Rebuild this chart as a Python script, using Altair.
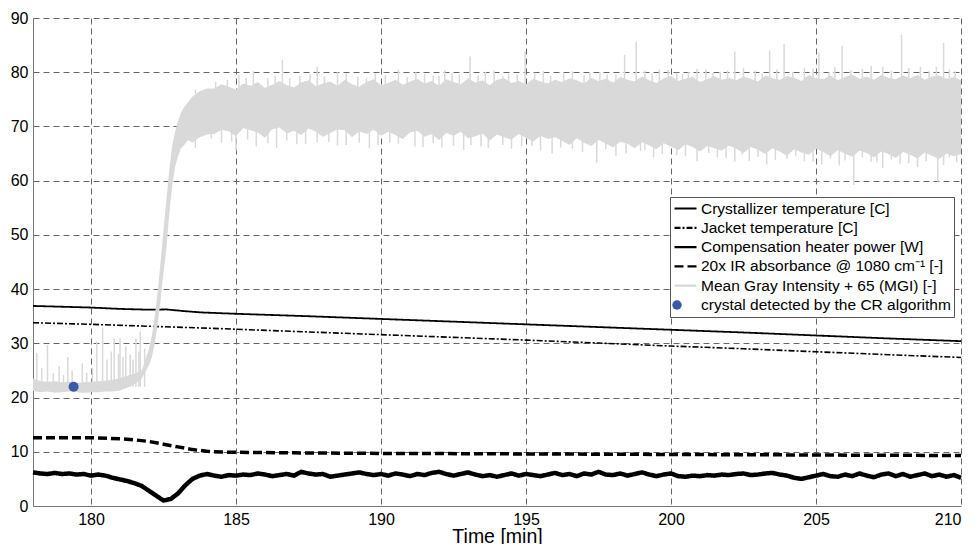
import altair as alt
import pandas as pd

FONT = "Liberation Sans"

SERIES = [
    "Crystallizer temperature [C]",
    "Jacket temperature [C]",
    "Compensation heater power [W]",
    "20x IR absorbance @ 1080 cm\u207b\u00b9 [-]",
    "Mean Gray Intensity + 65 (MGI) [-]",
    "crystal detected by the CR algorithm",
]
COLORS = ["#000000", "#000000", "#000000", "#000000", "#d9d9d9", "transparent"]
DASHES = [[1, 0], [6, 2, 2, 2], [1, 0], [9, 4], [1, 0], [1, 0]]
WIDTHS = [1.8, 1.6, 4.5, 3.5]
DOT_COLOR = "#3b5aa8"
BAND_COLOR = "#d9d9d9"

# Crystallizer temperature
cryst_t = [178, 179, 180, 181, 182, 182.6, 183.2, 183.8, 184.5, 185, 187.5, 190, 192.5,
           195, 197.5, 200, 202.5, 205, 207.5, 210]
cryst_v = [36.9, 36.75, 36.6, 36.35, 36.2, 36.25, 35.95, 35.7, 35.55, 35.45, 35.0, 34.5, 34.0,
           33.5, 33.0, 32.5, 32.0, 31.45, 30.9, 30.4]

# Jacket temperature
jacket_t = [178, 180, 182, 184, 185, 187.5, 190, 192.5, 195, 197.5, 200, 202.5, 205, 207.5, 210]
jacket_v = [33.8, 33.5, 33.15, 32.8, 32.6, 32.1, 31.6, 31.1, 30.6, 30.05, 29.5, 29.0, 28.45, 27.9, 27.4]

# IR absorbance x20
ir_t = [178, 180, 181, 181.5, 182, 182.5, 183, 183.5, 184, 184.5, 185, 187, 190, 193, 195,
        198, 200, 203, 205, 208, 210]
ir_v = [12.6, 12.6, 12.4, 12.2, 11.9, 11.4, 10.9, 10.4, 10.1, 9.95, 9.9, 9.8, 9.7, 9.65, 9.6,
        9.55, 9.5, 9.45, 9.4, 9.35, 9.3]

# Compensation heater power (every 0.25 min)
heater_t = [178 + 0.25 * i for i in range(129)]
heater_v = [6.2, 6.0, 5.9, 6.1, 5.9, 6.0, 5.8, 5.9, 5.6, 5.8, 5.6, 5.2, 4.9, 4.6, 4.2, 3.7,
            2.8, 1.9, 1.0, 1.3, 2.3, 3.8, 5.0, 5.6, 5.9, 5.6, 5.4, 5.7, 5.6, 5.8, 5.7, 6.0,
            5.8, 5.5, 5.7, 5.9, 5.6, 6.3, 6.0, 5.8, 5.9, 5.4, 5.6, 5.8, 6.0, 6.2, 5.9, 5.7,
            5.9, 5.6, 6.0, 5.8, 5.5, 5.9, 5.7, 6.1, 6.3, 5.9, 5.6, 5.9, 6.2, 5.8, 5.5, 5.7,
            5.4, 5.7, 6.0, 5.6, 5.9, 5.7, 5.5, 5.8, 6.1, 5.7, 5.9, 5.5, 6.0, 5.8, 6.3, 5.8,
            5.7, 6.0, 5.6, 5.9, 6.2, 5.8, 5.5, 5.8, 6.0, 5.5, 5.4, 5.6, 5.5, 5.7, 5.6, 5.8,
            5.7, 5.9, 6.0, 5.7, 5.8, 6.0, 6.1, 5.8, 5.6, 5.2, 5.0, 5.3, 5.6, 5.9, 5.5, 5.4,
            5.8, 5.5, 6.0, 5.6, 5.3, 5.8, 6.0, 5.5, 5.9, 5.4, 5.7, 6.0, 5.5, 5.8, 5.4, 5.7,
            5.2]

# Mean gray intensity + 65: envelope of the noisy signal
mgi_t_a = [178.0 + 0.25 * i for i in range(16)]
mgi_lo_a = [21.2, 21.0, 21.1, 20.9, 21.0, 21.1, 21.0, 20.9, 21.0, 21.0, 21.1, 21.1, 21.3, 21.8, 22.5, 23.5]
mgi_hi_a = [23.5, 23.0, 22.9, 23.0, 22.8, 22.9, 22.7, 22.8, 22.9, 23.0, 23.1, 23.3, 23.6, 24.0, 24.4, 25.0]

mgi_t_b = [182.0, 182.1, 182.2, 182.3, 182.4, 182.5, 182.6, 182.7, 182.8, 182.9, 183.0, 183.1,
           183.2, 183.35, 183.5, 183.75, 184.0]
mgi_lo_b = [26.0, 27.5, 30.0, 33.5, 38.0, 43.0, 47.5, 54.0, 59.0, 62.5, 64.5, 66.0, 66.5, 67.5, 67.0, 68.0, 68.5]
mgi_hi_b = [29.0, 31.5, 35.0, 39.5, 45.0, 51.0, 56.5, 62.0, 66.5, 69.0, 71.0, 72.5, 73.5, 74.5, 75.5, 76.5, 77.0]

mgi_t_c = [184.25 + 0.25 * i for i in range(104)]
mgi_lo_c = [68.6, 69.4, 69.1, 68.2, 69.7, 69.3, 68.9, 67.9, 69.5, 69.8, 68.7, 69.2, 68.4, 69.6, 69.0, 68.1, 68.8, 69.5, 69.3, 68.0, 69.1, 68.6, 69.4, 68.3,
            69.0, 68.4, 67.7, 68.9, 69.2, 68.1, 68.6, 67.5, 68.8, 68.3, 69.0, 67.8, 68.2, 68.7, 67.4, 68.5, 68.0, 67.6, 68.6, 67.9, 67.2, 68.3, 67.7, 68.0,
            67.3, 66.6, 67.8, 67.0, 66.4, 67.5, 66.9, 66.1, 67.2, 66.8, 66.0, 67.1, 66.5, 65.8, 66.9, 66.3, 65.6, 66.7, 66.2, 65.4, 66.4, 66.0, 65.5, 66.5,
            65.9, 65.1, 66.2, 65.7, 64.9, 66.0, 65.4, 64.6, 65.8, 65.2, 64.8, 65.9, 65.3, 64.5, 65.6, 65.0, 64.4, 65.5, 65.1, 64.3, 65.4, 64.9, 64.2, 65.3,
            64.8, 64.1, 65.2, 64.6, 64.0, 65.0, 64.5, 64.9]
mgi_hi_c = [77.0, 77.8, 77.3, 76.8, 77.9, 77.5, 78.2, 77.1, 77.7, 78.4, 77.6, 77.2, 78.1, 78.5, 77.4, 77.9, 78.3, 77.5, 78.6, 77.8, 77.3, 78.2, 78.7, 77.6,
            78.0, 78.6, 77.7, 78.3, 78.8, 77.9, 78.4, 77.5, 78.7, 78.2, 77.8, 78.9, 78.1, 78.5, 77.6, 78.6, 78.9, 78.0, 78.4, 77.8, 78.8, 78.3, 77.9, 78.6,
            78.2, 78.9, 78.5, 77.9, 79.0, 78.4, 78.8, 78.1, 79.1, 78.6, 78.3, 79.2, 78.5, 78.0, 78.9, 79.3, 78.4, 78.8, 79.1, 78.2, 78.7, 79.3, 78.6, 79.0,
            78.5, 79.2, 78.8, 78.3, 79.4, 78.9, 78.6, 79.3, 79.0, 78.4, 79.5, 78.9, 78.7, 79.4, 78.5, 79.1, 79.6, 78.8, 79.2, 78.6, 79.5, 79.0, 78.7, 79.4,
            78.9, 79.5, 78.6, 79.2, 79.4, 78.8, 79.1, 78.5]

# Individual spikes of the MGI signal
pre_t = [178.13, 178.3, 178.5, 178.7, 178.9, 179.05, 179.2, 179.35, 179.7, 179.85, 180.05, 180.2, 180.4,
         180.55, 180.7, 180.8, 180.95, 181.0, 181.1, 181.2, 181.35, 181.45, 181.55, 181.65, 181.7, 181.85]
pre_v = [28.2, 25.5, 29.7, 24.5, 25.8, 24.2, 27.5, 25.0, 26.3, 24.6, 25.5, 30.3, 32.8,
         27.0, 28.5, 30.9, 28.0, 30.9, 27.5, 29.4, 28.0, 27.0, 30.9, 28.5, 32.2, 29.0]
up_t = [183.6, 184.3, 185.1, 185.6, 186.1, 186.6, 187.2, 187.8, 188.5, 189.2, 189.8, 190.6, 191.2, 191.8,
        192.2, 192.7, 193.07, 193.9, 194.4, 194.97, 195.6, 196.3, 197.2, 197.8, 198.4, 198.8, 199.6, 200.2,
        200.6, 201.2, 201.7, 202.2, 202.9, 203.4, 203.9, 204.6, 205.1, 205.9, 206.6, 207.3, 207.95, 208.6,
        209.4, 209.8]
up_v = [76.8, 78.2, 79.6, 80.2, 78.9, 82.3, 79.3, 81.0, 80.0, 79.2, 79.8, 80.5, 80.0, 79.4,
        80.4, 79.6, 82.9, 80.3, 79.7, 83.8, 80.2, 79.8, 80.0, 79.6, 83.2, 85.6, 80.5, 79.9,
        80.0, 80.5, 80.1, 83.8, 80.3, 84.0, 85.2, 80.8, 83.6, 84.9, 80.6, 81.0, 86.9, 81.0,
        85.4, 80.2]
up2_t = [184.7, 185.35, 186.35, 186.85, 187.55, 188.05, 188.8, 189.5, 190.15, 190.9, 191.5, 192.0,
         192.45, 193.35, 193.6, 194.2, 194.7, 195.3, 195.85, 196.6, 197.0, 197.55, 198.1, 199.1,
         199.35, 199.9, 200.4, 200.9, 201.45, 201.95, 202.5, 203.15, 203.65, 204.2, 204.9, 205.45,
         205.65, 206.2, 206.9, 207.6, 208.2, 208.9, 209.15, 209.6]
up2_v = [78.6, 79.0, 79.4, 78.9, 79.6, 79.2, 79.8, 79.0, 79.5, 79.1, 79.7, 79.3,
         79.9, 79.4, 80.1, 79.2, 79.6, 79.9, 79.3, 80.2, 79.5, 80.0, 79.6, 80.3,
         79.8, 80.4, 79.7, 80.6, 79.9, 80.3, 80.8, 79.8, 80.5, 80.1, 80.7, 80.0,
         80.9, 80.4, 81.2, 80.3, 80.8, 80.2, 81.0, 80.5]
dn_t = [183.6, 184.5, 185.0, 185.7, 186.4, 187.4, 188.2, 188.8, 189.6, 190.3, 191.17, 192.1, 193.1,
        193.7, 194.2, 195.2, 195.9, 196.6, 197.44, 198.1, 198.95, 199.4, 200.2, 200.9, 201.6, 202.2,
        202.7, 203.3, 204.0, 204.6, 205.2, 205.8, 206.3, 206.9, 207.3, 207.9, 208.5, 209.2, 209.6]
dn_v = [66.0, 67.0, 65.5, 66.3, 66.0, 66.8, 67.2, 66.6, 66.0, 67.0, 66.3, 66.1, 66.6,
        66.0, 66.6, 66.4, 65.0, 65.9, 63.3, 64.6, 65.5, 64.3, 64.7, 63.6, 64.3, 63.5,
        63.6, 63.0, 64.0, 63.6, 63.0, 62.8, 59.2, 63.5, 62.3, 63.1, 62.5, 59.8, 64.3]
dn2_t = [184.15, 184.85, 185.4, 186.1, 186.75, 187.1, 187.8, 188.5, 189.25, 189.9, 190.6, 191.45,
         191.8, 192.5, 192.85, 193.45, 194.5, 194.85, 195.5, 196.2, 196.95, 197.75, 198.45, 199.1,
         199.7, 200.5, 201.3, 201.9, 202.45, 203.0, 203.6, 204.3, 204.9, 205.5, 206.0, 206.6,
         207.1, 207.6, 208.2, 208.8, 209.4, 209.85]
dn2_v = [67.8, 67.2, 67.6, 66.9, 67.4, 66.7, 67.1, 66.5, 67.0, 66.6, 66.8, 66.2,
         66.9, 66.4, 65.7, 66.3, 65.9, 66.4, 65.6, 66.1, 65.3, 65.8, 65.0, 65.6,
         64.9, 64.5, 65.1, 64.2, 64.8, 64.4, 63.8, 64.6, 63.5, 64.1, 63.7, 64.3,
         63.4, 63.9, 63.2, 63.6, 62.9, 63.4]
PRE_BASE, UP_BASE, DN_BASE = 22.0, 76.0, 70.0

# Crystal detected
dot_t = [179.4]
dot_v = [22.0]

# ---------- tables ----------
lines_df = pd.concat([
    pd.DataFrame({"t": cryst_t, "v": cryst_v, "series": SERIES[0], "w": WIDTHS[0]}),
    pd.DataFrame({"t": jacket_t, "v": jacket_v, "series": SERIES[1], "w": WIDTHS[1]}),
    pd.DataFrame({"t": heater_t, "v": heater_v, "series": SERIES[2], "w": WIDTHS[2]}),
    pd.DataFrame({"t": ir_t, "v": ir_v, "series": SERIES[3], "w": WIDTHS[3]}),
], ignore_index=True)

band_df = pd.DataFrame({
    "t": mgi_t_a + mgi_t_b + mgi_t_c,
    "lo": mgi_lo_a + mgi_lo_b + mgi_lo_c,
    "hi": mgi_hi_a + mgi_hi_b + mgi_hi_c,
})

spk_df = pd.concat([
    pd.DataFrame({"t": pre_t, "tip": pre_v, "base": PRE_BASE}),
    pd.DataFrame({"t": up_t + up2_t, "tip": up_v + up2_v, "base": UP_BASE}),
    pd.DataFrame({"t": dn_t + dn2_t, "tip": dn_v + dn2_v, "base": DN_BASE}),
], ignore_index=True)

dot_df = pd.DataFrame({"t": dot_t, "v": dot_v, "k": ["dot"]})

# ---------- encodings ----------
x_scale = alt.Scale(domain=[178, 210], nice=False, zero=False)
y_scale = alt.Scale(domain=[0, 90], nice=False)
x_axis = alt.Axis(values=list(range(180, 211, 5)), format="d", title="Time [min]",
                  titleY=21, titleBaseline="top")
y_axis = alt.Axis(values=list(range(0, 91, 10)), title=None)


def X(f="t"):
    return alt.X(f"{f}:Q", scale=x_scale, axis=x_axis)


def Y(f):
    return alt.Y(f"{f}:Q", scale=y_scale, axis=y_axis)


LEG_X, LEG_Y, LEG_PAD, ROW_H, ROW_PAD = 637, 179, 3, 17, 2.3


def main_legend():
    return alt.Legend(
        title=None, orient="none", legendX=LEG_X, legendY=LEG_Y, direction="vertical",
        fillColor="white", strokeColor="#555555", padding=LEG_PAD,
        labelFont=FONT, labelFontSize=15.5, labelColor="black", labelLimit=400, labelOffset=3,
        symbolType="stroke", symbolSize=484, symbolStrokeWidth=2.2,
        clipHeight=ROW_H, rowPadding=ROW_PAD,
    )


lines = alt.Chart(lines_df).mark_line(strokeJoin="round").encode(
    x=X(), y=Y("v"),
    color=alt.Color("series:N", scale=alt.Scale(domain=SERIES, range=COLORS), legend=main_legend()),
    strokeDash=alt.StrokeDash("series:N", scale=alt.Scale(domain=SERIES, range=DASHES), legend=main_legend()),
    strokeWidth=alt.StrokeWidth("w:Q", scale=None),
)

band = alt.Chart(band_df).mark_area(color=BAND_COLOR, interpolate="linear", opacity=1).encode(
    x=X(), y=Y("lo"), y2="hi:Q",
)

spikes = alt.Chart(spk_df).mark_rule(color=BAND_COLOR, strokeWidth=1.5).encode(
    x=X(), y=Y("base"), y2="tip:Q",
)

# blue dot; its legend symbol sits on the 6th row of the main legend
dot_leg_y = LEG_Y + LEG_PAD + 5 * (ROW_H + ROW_PAD)
dot = alt.Chart(dot_df).mark_circle(size=100, opacity=1).encode(
    x=X(), y=Y("v"),
    fill=alt.Fill("k:N", scale=alt.Scale(domain=["dot"], range=[DOT_COLOR]),
                  legend=alt.Legend(title=None, orient="none", legendX=LEG_X + 2, legendY=dot_leg_y,
                                    padding=0, symbolType="circle", symbolSize=90, labelExpr="''",
                                    clipHeight=ROW_H, symbolOpacity=1, zindex=2,
                                    symbolStrokeWidth=0)),
)

chart = alt.layer(lines, band, spikes, dot).properties(
    width=928, height=488,
    autosize=alt.AutoSizeParams(type="none"),
    padding={"left": 25, "top": 10, "right": 6, "bottom": 38},
).configure_axis(
    labelFont=FONT, labelFontSize=16, labelColor="black",
    titleFont=FONT, titleFontSize=19.5, titleFontWeight="normal", titleColor="black",
    domainColor="#777777", gridColor="#666666", gridDash=[6, 4], gridWidth=1,
    ticks=False, labelPadding=5,
).configure_view(strokeWidth=0)

chart.save("out.html", embed_options={"renderer": "svg", "actions": False})
